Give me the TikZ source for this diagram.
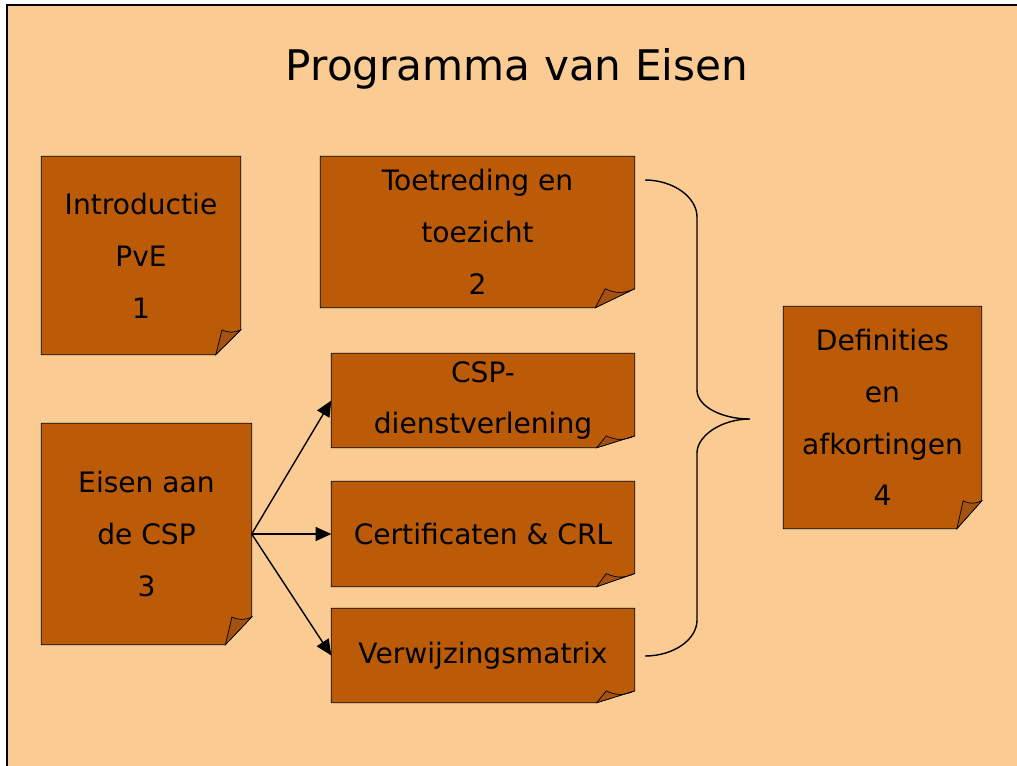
\documentclass[tikz,border=0pt]{standalone}
\usepackage{fontspec}
\setmainfont{DejaVu Sans}
\usetikzlibrary{arrows.meta,backgrounds,calc}

\definecolor{pagepeach}{HTML}{FBCB94}
\definecolor{notebrown}{HTML}{BB5B08}
\definecolor{folddark}{HTML}{A35212}

\tikzset{
    note/.style 2 args={minimum width=#1, minimum height=#2, inner sep=0pt,
        align=center, font=\fontsize{16}{29.5}\selectfont},
    titletext/.style={anchor=base, font=\fontsize{24}{30}\selectfont}
}

\begin{document}
\begin{tikzpicture}[%
    x=0.02cm,
    y=-0.02cm,
    >={Triangle[length=9pt,width=8pt]},
    line width=0.8pt
    ]

    \useasboundingbox (0,0) rectangle (1017,765);

    \node[titletext] (titel) at (517,80) {Programma van Eisen};

    \node[note={3.96cm}{3.94cm}] (intro) at (141,255.5) {Introductie\\PvE\\1};
    \node[note={6.26cm}{3.00cm}] (toetreding) at (477.5,232) {Toetreding en\\toezicht\\2};
    \node[note={6.04cm}{1.86cm}] (csp) at (483,400.5) {CSP-\\dienstverlening};
    \node[note={6.04cm}{2.08cm}] (cert) at (483,534) {Certificaten \& CRL};
    \node[note={6.04cm}{1.86cm}] (verw) at (483,655.5) {Verwijzingsmatrix};
    \node[note={4.18cm}{4.40cm}] (eisen) at (146.5,534) {Eisen aan\\de CSP\\3};
    \node[note={3.94cm}{4.42cm}] (defin) at (882.5,417.5) {Definities\\en\\afkortingen\\4};

    \draw[->] (eisen.east) -- (csp.west);
    \draw[->] (eisen.east) -- (cert.west);
    \draw[->] (eisen.east) -- (verw.west);

    \coordinate (brtop) at (645,180);
    \coordinate (brtip) at (750,419);
    \coordinate (brbot) at (645,656);
    \draw (brtop) .. controls (673,180) and (697,197) .. (697,217)
        -- (697,390) .. controls (697,406) and (721,419) .. (brtip)
        .. controls (721,419) and (697,436) .. (697,453)
        -- (697,620) .. controls (697,640) and (673,656) .. (brbot);

    \begin{scope}[on background layer]
        \fill[pagepeach] (7,5) rectangle (1030,780);
        \draw[line width=0.6pt] (7,780) |- (1030,5);
        \foreach \n in {intro,toetreding,csp,cert,verw,eisen,defin} {
            \coordinate (nw) at (\n.north west);
            \coordinate (se) at (\n.south east);
            \coordinate (fr) at ($(se)!0.125!(se |- nw)$);
            \coordinate (fb) at ($(se)!0.125!(se -| nw)$);
            \coordinate (fx) at ($(fb)!0.25!(se)$);
            \coordinate (ft) at (fx |- fr);
            \draw[fill=notebrown] (nw) -- (nw -| se) -- (fr) -- (fb) -- (se -| nw) -- cycle;
            \draw[fill=folddark] (fb) -- (ft) to[bend right=25] (fr) -- cycle;
        }
    \end{scope}

\end{tikzpicture}
\end{document}
